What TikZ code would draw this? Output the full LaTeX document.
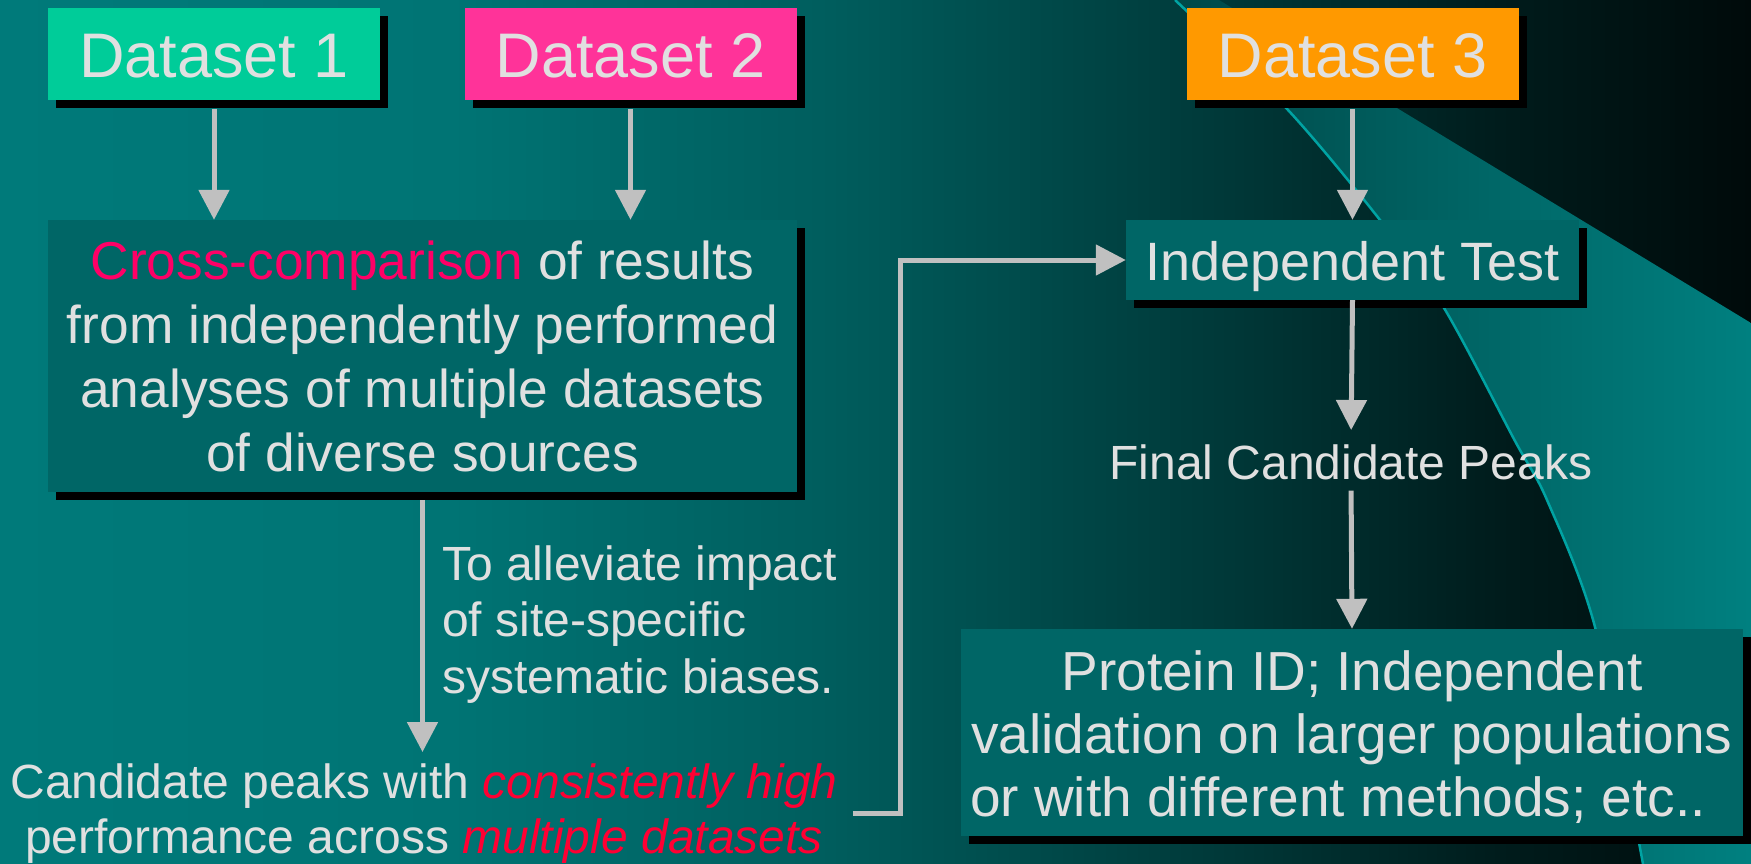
\documentclass[tikz,border=0pt]{standalone}
\usepackage{fontspec}
\setmainfont{Liberation Sans}
\usetikzlibrary{arrows.meta,shadows}

% palette
\definecolor{txt}{HTML}{E0E0E0}
\definecolor{boxteal}{HTML}{006666}
\definecolor{dsgreen}{HTML}{00CC99}
\definecolor{dspink}{HTML}{FF3399}
\definecolor{dsorange}{HTML}{FF9900}
\definecolor{hlpink}{HTML}{FF0066}
\definecolor{hlred}{HTML}{FF0033}
\definecolor{arrowgray}{HTML}{C0C0C0}
\definecolor{swooshedge}{HTML}{00A3A3}
\definecolor{swL}{HTML}{004848}
\definecolor{swR}{HTML}{008080}
\definecolor{bg0}{HTML}{007A7A}
\definecolor{bg1}{HTML}{007474}
\definecolor{bg2}{HTML}{005E5E}
\definecolor{bg3}{HTML}{003838}
\definecolor{bg4}{HTML}{001C1C}
\definecolor{bg5}{HTML}{000A0A}

% background: teal on the left fading to near black on the right
\pgfdeclarehorizontalshading{bgshade}{100bp}{color(0bp)=(bg0); color(25bp)=(bg0); color(37.85bp)=(bg1); color(48.4bp)=(bg2); color(60.1bp)=(bg3); color(67.8bp)=(bg4); color(75bp)=(bg5); color(100bp)=(bg5)}

\tikzset{
  shadowed/.style={general shadow={fill=black, shadow xshift=8pt, shadow yshift=-8pt}},
  dsbox/.style={shadowed, minimum width=332pt, minimum height=92pt, inner sep=0pt,
    text=txt, font=\fontsize{63}{74}\selectfont, text height=47pt, text depth=0pt},
  tealbox/.style={shadowed, fill=boxteal, text=txt, inner sep=0pt},
  plain/.style={text=txt, inner sep=0pt},
  flow/.style={draw=arrowgray, line width=5pt, -{Triangle[width=30pt,length=30pt]}},
}

\begin{document}
\begin{tikzpicture}[x=1pt,y=-1pt]
\useasboundingbox (0,0) rectangle (1751,864);
\shade[shading=bgshade] (0,0) rectangle (1751,864);

% swoosh in the upper right corner
\shade[left color=swL, right color=swR]
  (1175,0) -- plot[smooth] coordinates {(1175,0) (1288,110) (1380,220) (1444,308) (1515,441) (1547,500) (1595,627) (1643,864)}
  -- (1751,864) -- (1751,323) -- (1219,0) -- cycle;
\draw[swooshedge, line width=2.5pt]
  plot[smooth] coordinates {(1175,0) (1288,110) (1380,220) (1444,308) (1515,441) (1547,500) (1595,627) (1643,864)};

% data sources
\node[dsbox, fill=dsgreen]  (ds1) at (214,54.5)    {Dataset 1};
\node[dsbox, fill=dspink]   (ds2) at (630.5,54.5)  {Dataset 2};
\node[dsbox, fill=dsorange] (ds3) at (1352.5,54.5) {Dataset 3};

% processing boxes
\node[tealbox, align=center, minimum width=749pt, minimum height=272pt,
      font=\fontsize{53.3}{64}\selectfont] (cc) at (422.5,356)
  {\textcolor{hlpink}{Cross-comparison} of results\\from independently performed\\analyses of multiple datasets\\of diverse sources};

\node[tealbox, minimum width=453pt, minimum height=80pt,
      font=\fontsize{54}{64}\selectfont, text height=45pt, text depth=5pt] (it) at (1352.5,260)
  {Independent Test};

\node[tealbox, align=center, minimum width=782pt, minimum height=207pt,
      font=\fontsize{55}{63}\selectfont] (pid) at (1352,732.5)
  {\rule{0pt}{50pt}Protein ID; Independent\\validation on larger populations\hspace*{24pt}\\or with different methods; etc..\hspace*{28pt}};

% free text (multi-line nodes are anchored on their last baseline)
\node[plain, font=\fontsize{48}{56}\selectfont, anchor=base] (fcp) at (1351,479)
  {Final Candidate Peaks};
\node[plain, align=left, font=\fontsize{48}{56.5}\selectfont, anchor=base west] (note) at (442,693)
  {To alleviate impact\\of site-specific\\systematic biases.};
\node[plain, align=center, font=\fontsize{48}{55}\selectfont, anchor=base] (cand) at (424,853)
  {Candidate peaks with \textcolor{hlred}{\itshape consistently high}\\performance across \textcolor{hlred}{\itshape multiple datasets}};

% connectors
\draw[flow, shorten <=8pt] (ds1.south) -- (ds1.south |- cc.north);
\draw[flow, shorten <=8pt] (ds2.south) -- (ds2.south |- cc.north);
\draw[flow, shorten <=8pt] (ds3.south) -- (it.north);
\draw[flow, shorten <=8pt, shorten >=11pt] (cc.south) -- (cc.south |- cand.north);
\draw[flow] ([xshift=15pt]cand.east) -- ++(48,0) |- (it.west);
\draw[flow, shorten >=14pt] (it.south) -- (fcp.north);
\draw[flow, shorten <=11pt] (fcp.south) -- (pid.north);
\end{tikzpicture}
\end{document}
